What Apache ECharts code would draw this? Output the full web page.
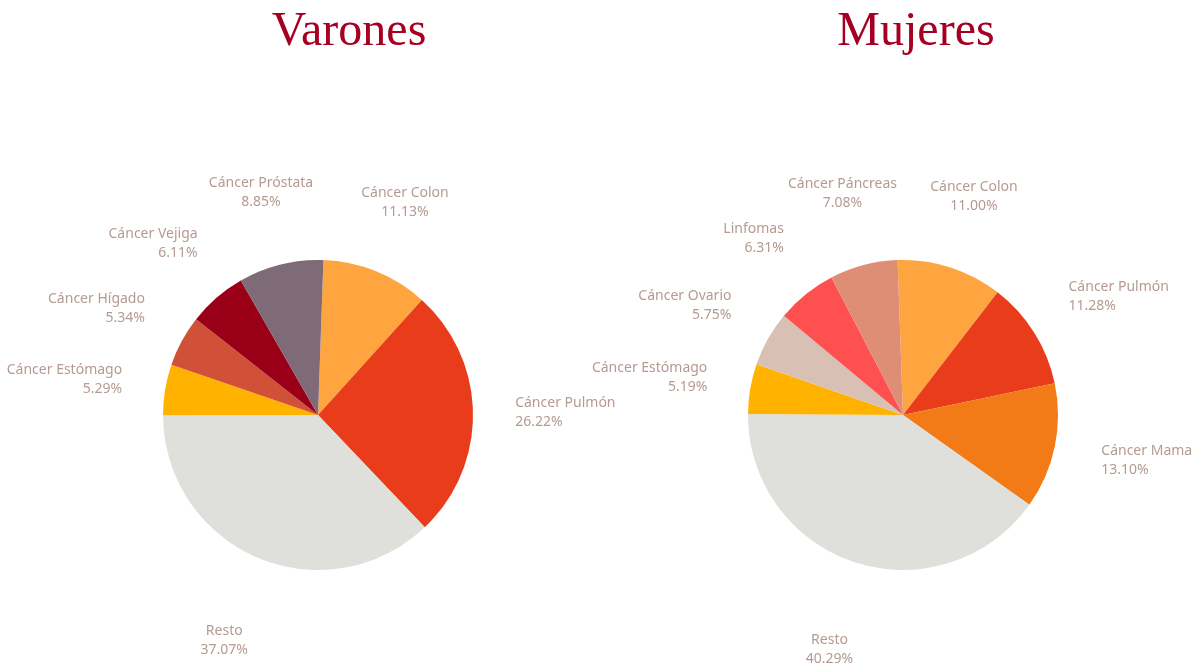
<!DOCTYPE html>
<html>
<head>
<meta charset="utf-8">
<title>Varones / Mujeres</title>
<script src="https://cdn.jsdelivr.net/npm/echarts@6/dist/echarts.min.js"></script>
<style>
  html, body { margin: 0; padding: 0; background: #fff; }
  #tarta { width: 1194px; height: 664px; }
</style>
</head>
<body>
<div id="tarta"></div>
<script>
// datos (porcentajes)
var varonesNombres = ['Cáncer Colon', 'Cáncer Pulmón', 'Resto', 'Cáncer Estómago', 'Cáncer Hígado', 'Cáncer Vejiga', 'Cáncer Próstata'];
var varonesValores = [11.13, 26.22, 37.07, 5.29, 5.34, 6.11, 8.85];
var varonesColores = ['#FFA540', '#E83C1A', '#DFE0DC', '#FFB300', '#D05038', '#990018', '#7F6A78'];

var mujeresNombres = ['Cáncer Colon', 'Cáncer Pulmón', 'Cáncer Mama', 'Resto', 'Cáncer Estómago', 'Cáncer Ovario', 'Linfomas', 'Cáncer Páncreas'];
var mujeresValores = [11.00, 11.28, 13.10, 40.29, 5.19, 5.75, 6.31, 7.08];
var mujeresColores = ['#FFA540', '#E83C1A', '#F37B17', '#DFE0DC', '#FFB300', '#D9C0B4', '#FF5050', '#DF8E76'];

var titulos = ['Varones', 'Mujeres'];

var colorEtiqueta = '#B59A93';
var separacion = 42;

function armarDatos(nombres, valores, colores) {
    var out = [];
    for (var i = 0; i < nombres.length; i++) {
        out.push({ name: nombres[i], value: valores[i], itemStyle: { color: colores[i] } });
    }
    return out;
}

// etiqueta empujada hacia fuera segun su tamaño (parecido al "best fit" de excel)
function colocarEtiqueta(p) {
    var pts = p.labelLinePoints;
    if (!pts) return {};
    var dx = pts[1][0] - pts[0][0];
    var dy = pts[1][1] - pts[0][1];
    var len = Math.sqrt(dx * dx + dy * dy) || 1;
    dx /= len; dy /= len;
    var extra = 14 * Math.abs(dy) + 18 * Math.max(dy, 0);
    var w = p.labelRect.width, h = p.labelRect.height;
    var cx = pts[1][0] + dx * (extra + w / 4);
    var cy = pts[1][1] + dy * (extra + h / 2);
    var align = 'center';
    if (dx < -0.6) { align = 'right'; cx += dx * w / 4 + w / 2; }
    else if (dx > 0.6) { align = 'left'; cx += dx * w / 4 - w / 2; }
    return { x: cx, y: cy, align: align, verticalAlign: 'middle' };
}

function serieTarta(datos, centro, inicio) {
    return {
        type: 'pie',
        center: centro,
        radius: 155,
        startAngle: inicio,
        clockwise: true,
        avoidLabelOverlap: false,
        data: datos,
        label: {
            show: true,
            position: 'outside',
            formatter: function (p) { return p.name + '\n' + p.value.toFixed(2) + '%'; },
            color: colorEtiqueta,
            fontFamily: 'Noto Sans',
            fontSize: 14,
            lineHeight: 19
        },
        labelLine: {
            show: true,
            length: separacion,
            length2: 0,
            lineStyle: { opacity: 0 }
        },
        labelLayout: colocarEtiqueta,
        emphasis: { disabled: true }
    };
}

var estiloTitulo = { fontFamily: 'Liberation Serif', fontSize: 48, fontWeight: 'normal', color: '#A50021' };

var myChart = echarts.init(document.getElementById('tarta'));
var option = {
    animation: false,
    title: [
        { text: titulos[0], left: 344, top: 3, textAlign: 'center', textStyle: estiloTitulo },
        { text: titulos[1], left: 911, top: 3, textAlign: 'center', textStyle: estiloTitulo }
    ],
    series: [
        serieTarta(armarDatos(varonesNombres, varonesValores, varonesColores), [318, 415], 88),
        serieTarta(armarDatos(mujeresNombres, mujeresValores, mujeresColores), [903, 415], 92)
    ]
};
myChart.setOption(option);
window.addEventListener("resize", function () { myChart.resize(); });
</script>
</body>
</html>
